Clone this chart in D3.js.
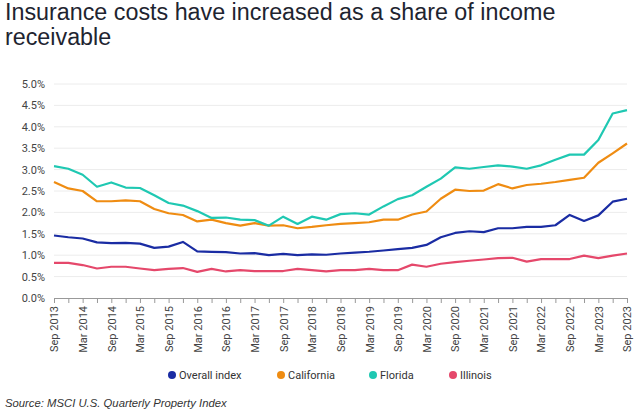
<!DOCTYPE html>
<html>
<head>
<meta charset="utf-8">
<script src="https://cdn.jsdelivr.net/npm/d3@7"></script>
<style>
  body { margin: 0; background: #fff; }
  svg { display: block; }
</style>
</head>
<body>
<div id="chart"></div>
<script>
// quarters, Sep 2013 .. Sep 2023
const quarters = [
  "Sep 2013", "Dec 2013", "Mar 2014", "Jun 2014", "Sep 2014", "Dec 2014", "Mar 2015", "Jun 2015",
  "Sep 2015", "Dec 2015", "Mar 2016", "Jun 2016", "Sep 2016", "Dec 2016", "Mar 2017", "Jun 2017",
  "Sep 2017", "Dec 2017", "Mar 2018", "Jun 2018", "Sep 2018", "Dec 2018", "Mar 2019", "Jun 2019",
  "Sep 2019", "Dec 2019", "Mar 2020", "Jun 2020", "Sep 2020", "Dec 2020", "Mar 2021", "Jun 2021",
  "Sep 2021", "Dec 2021", "Mar 2022", "Jun 2022", "Sep 2022", "Dec 2022", "Mar 2023", "Jun 2023",
  "Sep 2023"
];

const tickLabels = [
  "Sep 2013", "Mar 2014", "Sep 2014", "Mar 2015", "Sep 2015", "Mar 2016", "Sep 2016", "Mar 2017",
  "Sep 2017", "Mar 2018", "Sep 2018", "Mar 2019", "Sep 2019", "Mar 2020", "Sep 2020", "Mar 2021",
  "Sep 2021", "Mar 2022", "Sep 2022", "Mar 2023", "Sep 2023"
];

const yTicks = [0, 0.5, 1.0, 1.5, 2.0, 2.5, 3.0, 3.5, 4.0, 4.5, 5.0];

// values in %
const overall = [
  1.46, 1.42, 1.39, 1.30, 1.28, 1.29, 1.27, 1.17, 1.20, 1.31,
  1.09, 1.08, 1.07, 1.04, 1.05, 1.00, 1.03, 1.00, 1.02, 1.01,
  1.04, 1.06, 1.08, 1.11, 1.14, 1.17, 1.24, 1.42, 1.52, 1.56,
  1.54, 1.63, 1.63, 1.66, 1.66, 1.70, 1.94, 1.80, 1.93, 2.25,
  2.32
];
const california = [
  2.71, 2.56, 2.50, 2.26, 2.26, 2.28, 2.26, 2.08, 1.98, 1.94,
  1.79, 1.83, 1.75, 1.69, 1.75, 1.69, 1.70, 1.63, 1.66, 1.70,
  1.73, 1.75, 1.77, 1.83, 1.83, 1.95, 2.02, 2.32, 2.53, 2.50,
  2.51, 2.66, 2.56, 2.64, 2.67, 2.71, 2.76, 2.81, 3.16, 3.38,
  3.61
];
const florida = [
  3.08, 3.02, 2.88, 2.60, 2.70, 2.58, 2.57, 2.40, 2.22, 2.16,
  2.03, 1.87, 1.88, 1.83, 1.82, 1.69, 1.90, 1.73, 1.90, 1.83,
  1.96, 1.98, 1.95, 2.14, 2.31, 2.40, 2.60, 2.79, 3.05, 3.02,
  3.06, 3.10, 3.07, 3.02, 3.10, 3.23, 3.35, 3.35, 3.69, 4.31,
  4.39
];
const illinois = [
  0.82, 0.82, 0.77, 0.69, 0.73, 0.73, 0.69, 0.65, 0.68, 0.70,
  0.61, 0.68, 0.62, 0.65, 0.63, 0.63, 0.63, 0.68, 0.65, 0.62,
  0.65, 0.65, 0.68, 0.65, 0.65, 0.78, 0.73, 0.80, 0.84, 0.87,
  0.90, 0.93, 0.94, 0.85, 0.91, 0.91, 0.91, 0.99, 0.93, 0.99,
  1.04
];

const seriesNames = ["Overall index", "California", "Florida", "Illinois"];
const seriesColors = ["#1a2ca3", "#ef8c12", "#1fc8b2", "#e5486b"];
const seriesValues = [overall, california, florida, illinois];

const W = 640, H = 413;
const margin = { top: 84, right: 13, bottom: 115, left: 54 };

const svg = d3.select("#chart").append("svg")
  .attr("width", W)
  .attr("height", H);

// title
const title = svg.append("text")
  .attr("font-family", "Liberation Sans, Arial, sans-serif")
  .attr("font-size", 23.3)
  .attr("fill", "#1e2430");
title.append("tspan").attr("x", 5).attr("y", 20).text("Insurance costs have increased as a share of income");
title.append("tspan").attr("x", 5).attr("y", 45).text("receivable");

const x = d3.scalePoint()
  .domain(quarters)
  .range([margin.left, W - margin.right]);

const y = d3.scaleLinear()
  .domain([0, 5])
  .range([H - margin.bottom, margin.top]);

// gridlines
svg.append("g")
  .selectAll("line")
  .data(yTicks.slice(1))
  .join("line")
  .attr("x1", margin.left)
  .attr("x2", W - margin.right)
  .attr("y1", d => y(d))
  .attr("y2", d => y(d))
  .attr("stroke", "#ececec")
  .attr("stroke-width", 1);

// y axis labels
const yAxis = svg.append("g")
  .attr("transform", `translate(${margin.left},0)`)
  .call(d3.axisLeft(y).tickValues(yTicks).tickFormat(d => d.toFixed(1) + "%").tickSize(0).tickPadding(9));
yAxis.select(".domain").remove();
yAxis.selectAll("text")
  .attr("font-family", "Roboto, sans-serif")
  .attr("font-size", 11)
  .attr("fill", "#444");

// x axis
const xAxis = svg.append("g")
  .attr("transform", `translate(0,${y(0)})`)
  .call(d3.axisBottom(x).tickSize(5).tickFormat(d => tickLabels.includes(d) ? d : ""));
xAxis.select(".domain").attr("stroke", "#999");
xAxis.selectAll(".tick line").attr("stroke", "#999");
xAxis.selectAll("text")
  .attr("font-family", "Roboto, sans-serif")
  .attr("font-size", 11)
  .attr("fill", "#444")
  .attr("text-anchor", "end")
  .attr("transform", "rotate(-90)")
  .attr("x", -8)
  .attr("y", 0)
  .attr("dy", "0.35em");

// lines
const line = d3.line()
  .x((d, i) => x(quarters[i]))
  .y(d => y(d));

svg.append("g")
  .selectAll("path")
  .data(seriesValues)
  .join("path")
  .attr("d", d => line(d))
  .attr("fill", "none")
  .attr("stroke", (d, i) => seriesColors[i])
  .attr("stroke-width", 2.2)
  .attr("stroke-linejoin", "round");

// legend
const legendX = [172, 281, 373, 453];
const legend = svg.append("g")
  .selectAll("g")
  .data(seriesNames)
  .join("g")
  .attr("transform", (d, i) => `translate(${legendX[i]},375)`);
legend.append("circle")
  .attr("r", 4)
  .attr("fill", (d, i) => seriesColors[i]);
legend.append("text")
  .attr("x", 7)
  .attr("dy", "0.35em")
  .attr("font-family", "Roboto, sans-serif")
  .attr("font-size", 11)
  .attr("fill", "#333")
  .text(d => d);

// source
svg.append("text")
  .attr("x", 5)
  .attr("y", 407)
  .attr("font-family", "Liberation Sans, Arial, sans-serif")
  .attr("font-style", "italic")
  .attr("font-size", 11.3)
  .attr("fill", "#333")
  .text("Source: MSCI U.S. Quarterly Property Index");
</script>
</body>
</html>
